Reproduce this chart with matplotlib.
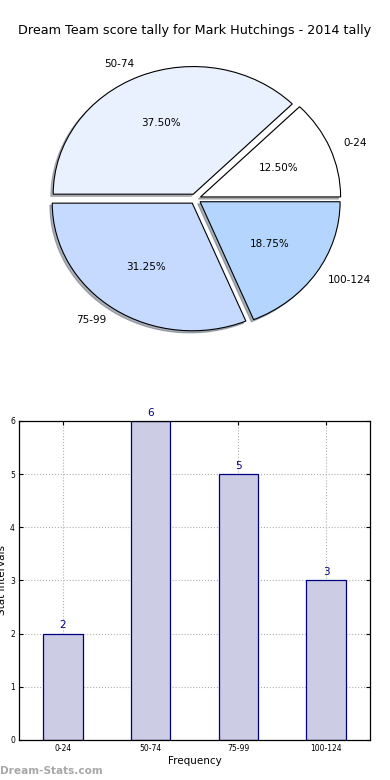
import matplotlib
matplotlib.use("Agg")
import matplotlib.pyplot as plt
import numpy as np

plt.rcParams["font.family"] = ["DejaVu Sans"]

# data
categories = ["0-24", "50-74", "75-99", "100-124"]
counts = [2, 6, 5, 3]
pie_colors = ["#FFFFFF", "#EAF1FE", "#C6D9FE", "#B4D6FE"]
title = "Dream Team score tally for Mark Hutchings - 2014 tally"

fig = plt.figure(figsize=(3.9, 7.8), dpi=100)
fig.patch.set_facecolor("white")

# pie chart (top)
ax1 = fig.add_axes([0.106, 0.565, 0.79, 0.36])
wedges, texts, autotexts = ax1.pie(
    counts, labels=categories, colors=pie_colors, autopct="%1.2f%%",
    explode=[0.04] * len(counts),
    shadow=dict(ox=-0.012, oy=-0.012, shade=0.55), startangle=0,
    wedgeprops=dict(edgecolor="black", linewidth=0.8),
    textprops=dict(fontsize=7.5))
ax1.set_aspect("auto")
ax1.set_xlim(-1.1, 1.1)
ax1.set_ylim(-1.1, 1.1)
ax1.axis("off")
fig.text(0.5, 0.961, title, ha="center", va="center", fontsize=9.2)

# bar chart (bottom)
ax2 = fig.add_axes([0.049, 0.0513, 0.9, 0.409])
x = np.arange(len(categories))
bars = ax2.bar(x, counts, width=0.45, color="#CCCCE5", edgecolor="#000080",
               linewidth=0.9, zorder=2)
for b, v in zip(bars, counts):
    ax2.text(b.get_x() + b.get_width() / 2, v + 0.06, str(v), ha="center",
             va="bottom", color="#000080", fontsize=7.5)
ax2.set_xlim(-0.5, 3.5)
ax2.set_ylim(0, 6)
ax2.set_xticks(x)
ax2.set_xticklabels(categories)
ax2.set_yticks(range(0, 7))
ax2.tick_params(axis="both", direction="in", labelsize=5.5, top=True, right=True,
                length=3, pad=3)
ax2.grid(True, linestyle=":", color="#B0B0B0", linewidth=0.8, zorder=0)
ax2.set_axisbelow(True)
ax2.set_xlabel("Frequency", fontsize=7.5, labelpad=2)
ax2.set_ylabel("Stat Intervals", fontsize=7.5, labelpad=2)
for s in ax2.spines.values():
    s.set_linewidth(0.9)

fig.text(0.0, 0.012, "Dream-Stats.com", color="#A8A8A8", fontsize=7.6,
         fontweight="bold", ha="left", va="center")

fig.savefig("out.png", dpi=100)
